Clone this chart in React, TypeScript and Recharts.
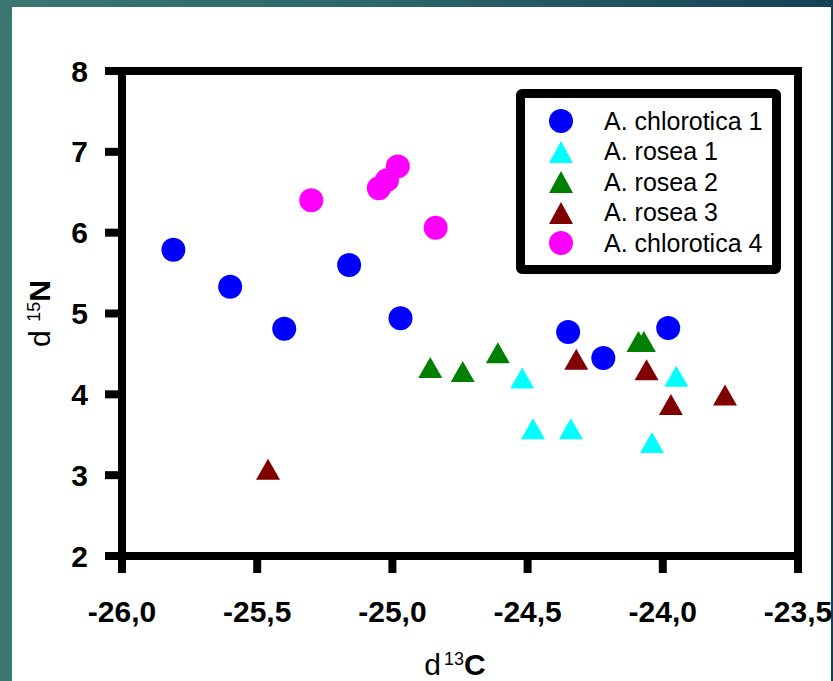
import React from 'react';
import { ScatterChart, Scatter, XAxis, YAxis, ReferenceArea, Legend, Label } from 'recharts';

const FONT = '"Liberation Sans", Arial, sans-serif';

const xTicks = [-26, -25.5, -25, -24.5, -24, -23.5];
const yTicks = [2, 3, 4, 5, 6, 7, 8];

const seriesNames = ['A. chlorotica 1', 'A. rosea 1', 'A. rosea 2', 'A. rosea 3', 'A. chlorotica 4'];
const seriesColors = ['#0000ff', '#00ffff', '#008000', '#800000', '#ff00ff'];

const chlorotica1X = [-25.81, -25.6, -25.4, -25.16, -24.97, -24.35, -24.22, -23.98];
const chlorotica1Y = [5.79, 5.33, 4.81, 5.6, 4.94, 4.77, 4.45, 4.82];

const rosea1X = [-24.52, -24.48, -24.34, -24.04, -23.95];
const rosea1Y = [4.16, 3.53, 3.53, 3.36, 4.18];

const rosea2X = [-24.86, -24.74, -24.61, -24.09, -24.07];
const rosea2Y = [4.29, 4.24, 4.47, 4.61, 4.61];

const rosea3X = [-25.46, -24.32, -24.06, -23.97, -23.77];
const rosea3Y = [3.03, 4.39, 4.26, 3.83, 3.95];

const chlorotica4X = [-25.3, -25.05, -25.02, -24.98, -24.84];
const chlorotica4Y = [6.4, 6.55, 6.65, 6.82, 6.06];

const zip = (xs: number[], ys: number[]) => xs.map((x, i) => ({ x, y: ys[i] }));

const CircleDot = (props: any) => (
  <circle cx={props.cx} cy={props.cy} r={12} fill={props.fill} />
);

const TriangleDot = (props: any) => {
  const { cx, cy, fill } = props;
  const pts = `${cx},${cy - 14} ${cx + 12},${cy + 7} ${cx - 12},${cy + 7}`;
  return <polygon points={pts} fill={fill} />;
};

function LegendBox({ payload }: any) {
  // keep the series order, not the alphabetical one
  const items = [...(payload || [])].sort(
    (a: any, b: any) => seriesNames.indexOf(a.value) - seriesNames.indexOf(b.value)
  );
  return (
    <div
      style={{
        boxSizing: 'border-box',
        width: 265,
        height: 185,
        border: '9px solid #000',
        borderRadius: 6,
        background: '#fff',
        paddingTop: 8,
        fontFamily: FONT,
        fontSize: 25,
        color: '#000',
      }}
    >
      {items.map((entry: any) => (
        <div key={entry.value} style={{ display: 'flex', alignItems: 'center', height: 30.5 }}>
          <svg width={24} height={24} style={{ marginLeft: 24, flexShrink: 0 }}>
            {entry.type === 'triangle' ? (
              <polygon points="12,1 24,23 0,23" fill={entry.color} />
            ) : (
              <circle cx={12} cy={12} r={12} fill={entry.color} />
            )}
          </svg>
          <span style={{ marginLeft: 31, whiteSpace: 'nowrap' }}>{entry.value}</span>
        </div>
      ))}
    </div>
  );
}

const XTitle = (props: any) => {
  const vb = props.viewBox || { x: 122, width: 676 };
  const cx = vb.x + vb.width / 2 - 5;
  return (
    <text x={cx} y={675} textAnchor="middle" fontFamily={FONT} fontSize={30} fill="#000">
      <tspan>d</tspan>
      <tspan dx={3} dy={-10} fontSize={18}>13</tspan>
      <tspan dy={10} fontWeight="bold">C</tspan>
    </text>
  );
};

const YTitle = (props: any) => {
  const vb = props.viewBox || { y: 71, height: 485 };
  const cx = 50;
  const cy = vb.y + vb.height / 2;
  return (
    <text
      x={cx}
      y={cy}
      transform={`rotate(-90, ${cx}, ${cy})`}
      textAnchor="middle"
      fontFamily={FONT}
      fontSize={30}
      fill="#000"
    >
      <tspan>d </tspan>
      <tspan dy={-10} fontSize={18}>15</tspan>
      <tspan dy={10} fontWeight="bold">N</tspan>
    </text>
  );
};

const fmt = (v: number) => v.toFixed(1).replace('.', ',');

export default function App() {
  const groups = [
    zip(chlorotica1X, chlorotica1Y),
    zip(rosea1X, rosea1Y),
    zip(rosea2X, rosea2Y),
    zip(rosea3X, rosea3Y),
    zip(chlorotica4X, chlorotica4Y),
  ];
  const isTriangle = [false, true, true, true, false];

  return (
    <div
      style={{
        position: 'absolute',
        left: 0,
        top: 0,
        width: 833,
        height: 681,
        background: 'linear-gradient(90deg, #3b7671 0%, #2c6868 45%, #163f58 100%)',
        overflow: 'hidden',
      }}
    >
      <div style={{ position: 'absolute', left: 12, top: 7, right: 2, bottom: 0, background: '#fff' }} />
      <div style={{ position: 'absolute', left: 0, top: 0 }}>
        <ScatterChart
          width={833}
          height={681}
          margin={{ top: 71, right: 35, bottom: 65, left: 22 }}
          style={{ fontFamily: FONT }}
        >
          <XAxis
            type="number"
            dataKey="x"
            domain={[-26, -23.5]}
            ticks={xTicks}
            tickFormatter={fmt}
            height={60}
            axisLine={false}
            stroke="#000"
            tickSize={17}
            tickMargin={28}
            tickLine={{ stroke: '#000', strokeWidth: 8 }}
            tick={{ fill: '#000', fontSize: 30, fontWeight: 'bold' }}
            interval={0}
            allowDataOverflow
          >
            <Label content={<XTitle />} />
          </XAxis>
          <YAxis
            type="number"
            dataKey="y"
            domain={[2, 8]}
            ticks={yTicks}
            width={100}
            axisLine={false}
            stroke="#000"
            tickSize={17}
            tickMargin={17}
            tickLine={{ stroke: '#000', strokeWidth: 8 }}
            tick={{ fill: '#000', fontSize: 30, fontWeight: 'bold' }}
            interval={0}
            allowDataOverflow
          >
            <Label content={<YTitle />} />
          </YAxis>
          <ReferenceArea
            x1={-26}
            x2={-23.5}
            y1={2}
            y2={8}
            fill="none"
            fillOpacity={0}
            stroke="#000"
            strokeWidth={8}
          />
          {groups.map((data, i) => (
            <Scatter
              key={seriesNames[i]}
              name={seriesNames[i]}
              data={data}
              fill={seriesColors[i]}
              legendType={isTriangle[i] ? 'triangle' : 'circle'}
              shape={isTriangle[i] ? TriangleDot : CircleDot}
              isAnimationActive={false}
            />
          ))}
          <Legend
            layout="horizontal"
            verticalAlign="middle"
            align="center"
            content={<LegendBox />}
            wrapperStyle={{ left: 516, top: 89, width: 265, height: 185 }}
          />
        </ScatterChart>
      </div>
    </div>
  );
}
